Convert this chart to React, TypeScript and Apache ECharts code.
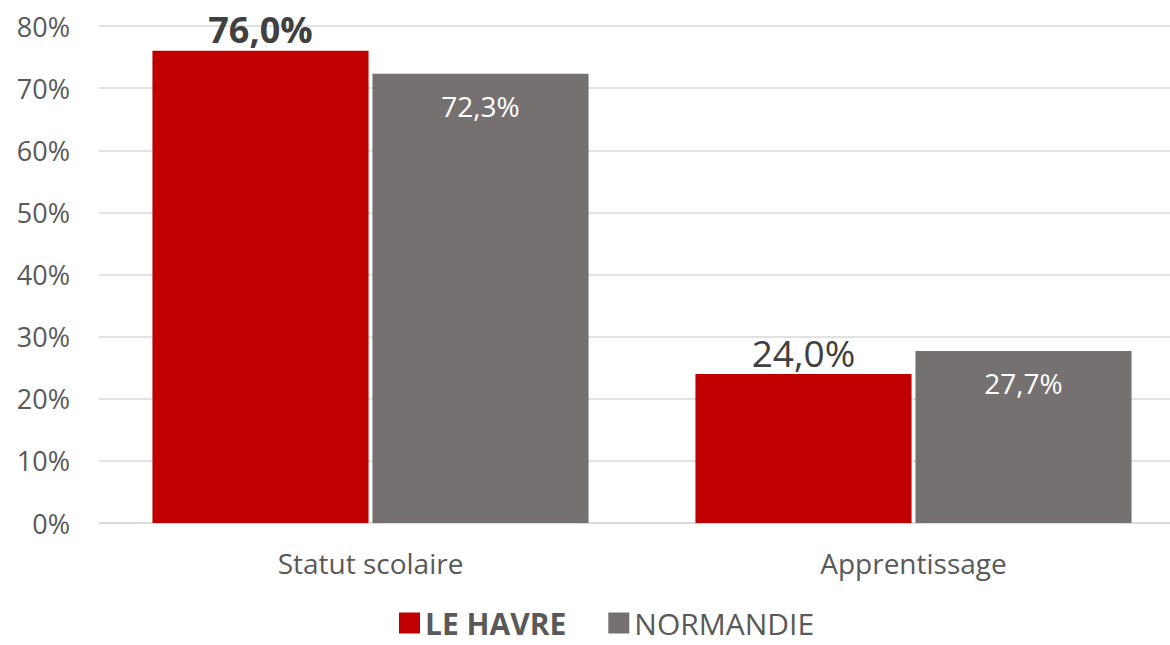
import React, { useEffect, useRef } from "react";
import * as echarts from "echarts";

const categories = ["Statut scolaire", "Apprentissage"];
const leHavre = [76.0, 24.0];
const normandie = [72.3, 27.7];
const seriesNames = ["LE HAVRE", "NORMANDIE"];

const FONT = "'Open Sans', sans-serif";
const fmt = (v: number) => v.toFixed(1).replace(".", ",") + "%";

export default function App() {
  const ref = useRef<HTMLDivElement>(null);
  useEffect(() => {
    if (!ref.current) return;
    const chart = echarts.init(ref.current, null, { renderer: "svg" });
    chart.setOption({
      animation: false,
      textStyle: { fontFamily: FONT },
      grid: { left: 99, right: 0, top: 26, bottom: 122 },
      legend: {
        top: 603,
        left: 394,
        itemWidth: 21,
        itemHeight: 21,
        itemGap: 42,
        icon: "rect",
        data: [
          { name: seriesNames[0], textStyle: { fontWeight: "bold" } },
          { name: seriesNames[1] },
        ],
        textStyle: { fontSize: 30, color: "#595959", fontFamily: FONT },
      },
      xAxis: {
        type: "category",
        data: categories,
        axisTick: { show: false },
        axisLine: { lineStyle: { color: "#d9d9d9", width: 1.5 } },
        axisLabel: { fontSize: 28, color: "#595959", margin: 26, fontFamily: FONT },
      },
      yAxis: {
        type: "value",
        min: 0,
        max: 80,
        interval: 10,
        axisLabel: {
          fontSize: 27,
          color: "#595959",
          margin: 29,
          fontFamily: FONT,
          formatter: (v: number) => v + "%",
        },
        splitLine: { lineStyle: { color: "#d9d9d9", width: 1.5 } },
      },
      series: [
        {
          name: seriesNames[0],
          type: "bar",
          barWidth: "39.8%",
          barGap: "1.8%",
          itemStyle: { color: "#C00000" },
          data: leHavre.map((v, i) =>
            i === 0 ? { value: v, label: { fontWeight: "bold", fontSize: 36 } } : { value: v }
          ),
          label: {
            show: true,
            position: "top",
            distance: 3,
            fontSize: 37,
            color: "#404040",
            fontFamily: FONT,
            formatter: (p: any) => fmt(p.value),
          },
        },
        {
          name: seriesNames[1],
          type: "bar",
          barWidth: "39.8%",
          barGap: "1.8%",
          itemStyle: { color: "#767171" },
          data: normandie,
          label: {
            show: true,
            position: "insideTop",
            distance: 18,
            fontSize: 28,
            color: "#ffffff",
            fontFamily: FONT,
            formatter: (p: any) => fmt(p.value),
          },
        },
      ],
    });
    return () => chart.dispose();
  }, []);
  return (
    <div
      style={{ position: "absolute", left: 0, top: 0, width: 1170, height: 645, overflow: "hidden", background: "#fff" }}
    >
      <div ref={ref} style={{ width: 1185, height: 645 }} />
    </div>
  );
}
